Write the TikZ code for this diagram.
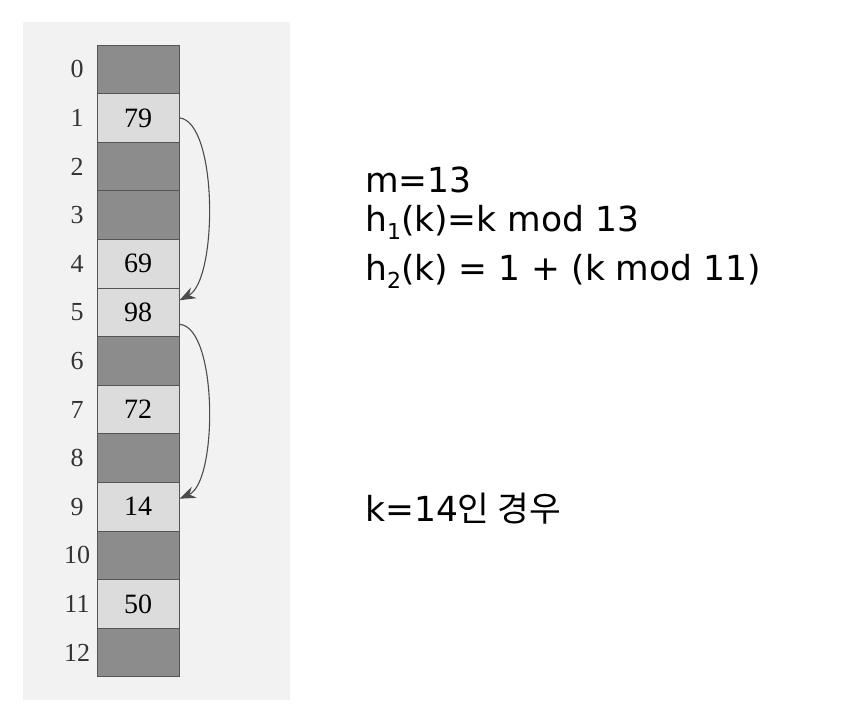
\documentclass[tikz,border=0pt]{standalone}
\usepackage{fontspec}
\setmainfont{Liberation Serif}
\newfontfamily\krfont{Noto Sans CJK KR}
\newfontfamily\latfont{DejaVu Sans}
\usetikzlibrary{arrows.meta}
\definecolor{panel}{HTML}{F2F2F2}
\definecolor{full}{HTML}{8C8C8C}
\definecolor{empty}{HTML}{DCDCDC}
\definecolor{edge}{HTML}{555555}
\newcommand{\lowsub}[1]{\raisebox{-0.45ex}{\fontsize{22}{22}\selectfont#1}}

\begin{document}
\begin{tikzpicture}[x=1pt,y=-1pt,
  cell/.style={draw=edge,line width=1pt,minimum width=82pt,minimum height=48.6pt,inner sep=0pt,font=\fontsize{28}{28}\selectfont},
  idx/.style={font=\fontsize{26}{26}\selectfont,text=black!80},
  formula/.style={anchor=base west,font=\latfont\fontsize{34.5}{34.5}\selectfont,inner sep=0pt},
  arr/.style={-{Stealth[length=16pt,width=12pt]},line width=1.1pt,draw=black!70}]
\useasboundingbox (0,0) rectangle (860,710);
\fill[white] (0,0) rectangle (860,710);
\fill[panel] (23,22) rectangle (290,700);
% hash table slots
\foreach \i/\v in {0/,1/79,2/,3/,4/69,5/98,6/,7/72,8/,9/14,10/,11/50,12/}{
  \ifx\v\empty
    \node[cell,fill=full] (cell\i) at (138,{45+48.6*(\i+0.5)}) {};
  \else
    \node[cell,fill=empty] (cell\i) at (138,{45+48.6*(\i+0.5)}) {\v};
  \fi
  \node[idx] (idx\i) at (77,{45+48.6*(\i+0.5)}) {\i};
}
% probe sequence
\draw[arr] (cell1.east) .. controls (218,122) and (218,280) .. ([yshift=12pt]cell5.east);
\draw[arr] ([yshift=-12pt]cell5.east) .. controls (218,327) and (218,482) .. ([yshift=8pt]cell9.east);
\node[formula] (m) at (365,192) {m=13};
\node[formula] (hone) at (365,231) {h\lowsub{1}(k)=k mod 13};
\node[formula] (htwo) at (365,280) {h\lowsub{2}(k) = 1 + (k mod 11)};
\node[formula] (case) at (365,521) {k=14{\krfont 인 경우}};
\end{tikzpicture}
\end{document}
